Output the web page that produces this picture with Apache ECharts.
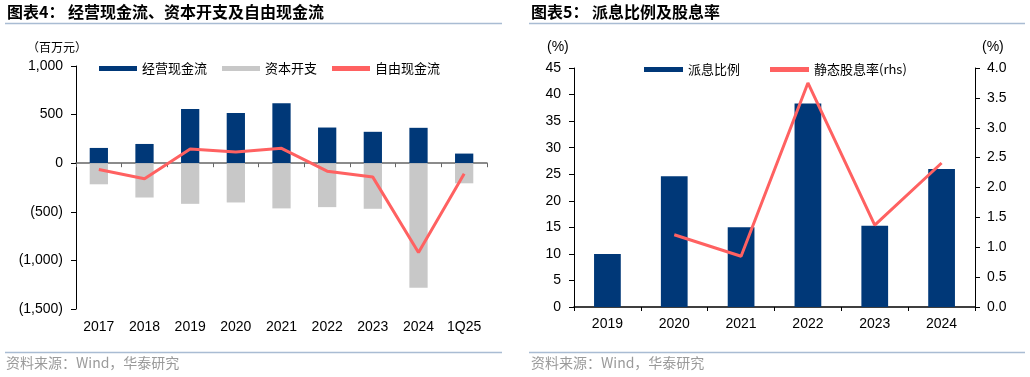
<!DOCTYPE html>
<html>
<head>
<meta charset="utf-8">
<script src="https://cdn.jsdelivr.net/npm/echarts@6/dist/echarts.min.js"></script>
<style>
  html, body { margin: 0; padding: 0; background: #fff; }
  #chart { width: 1030px; height: 377px; }
</style>
</head>
<body>
<div id="chart"></div>
<script>
// 图表4 数据（百万元）
const years = ["2017", "2018", "2019", "2020", "2021", "2022", "2023", "2024", "1Q25"];
const opCashFlow = [157, 198, 558, 517, 616, 367, 323, 364, 99];
const capex = [-217, -353, -418, -404, -465, -452, -469, -1282, -207];
const freeCashFlow = [-64, -159, 147, 116, 153, -82, -143, -918, -108];

// 图表5 数据（%）
const divYears = ["2019", "2020", "2021", "2022", "2023", "2024"];
const payoutRatio = [10.0, 24.6, 15.0, 38.3, 15.3, 26.0];
const dividendYield = [null, 1.21, 0.85, 3.75, 1.37, 2.41];

const BLUE = "#003878";
const GREY = "#C8C8C8";
const RED = "#FF6161";
const LINE_BLUE = "#A9BCD3";
const numFont = "Arial, 'Liberation Sans', sans-serif";
const cjkFont = "'Noto Sans CJK SC', sans-serif";

function fmtThousands(v) {
  const s = Math.abs(v).toLocaleString("en-US");
  return v < 0 ? "(" + s + ")" : s;
}

let myChart = echarts.init(document.getElementById("chart"), null, { renderer: "canvas" });

let options = {
  animation: false,
  graphic: [
    // 标题
    { type: "text", left: 7, top: 4, style: { text: "图表4：", font: "bold 16px " + cjkFont, fill: "#000" } },
    { type: "text", left: 68, top: 4, style: { text: "经营现金流、资本开支及自由现金流", font: "bold 16px " + cjkFont, fill: "#000" } },
    { type: "text", left: 531, top: 4, style: { text: "图表5：", font: "bold 16px " + cjkFont, fill: "#000" } },
    { type: "text", left: 592, top: 4, style: { text: "派息比例及股息率", font: "bold 16px " + cjkFont, fill: "#000" } },
    // 分隔线
    { type: "line", shape: { x1: 5, y1: 23.5, x2: 502, y2: 23.5 }, style: { stroke: LINE_BLUE, lineWidth: 1.5 } },
    { type: "line", shape: { x1: 529, y1: 23.5, x2: 1025, y2: 23.5 }, style: { stroke: LINE_BLUE, lineWidth: 1.5 } },
    { type: "line", shape: { x1: 5, y1: 352.5, x2: 502, y2: 352.5 }, style: { stroke: LINE_BLUE, lineWidth: 1.5 } },
    { type: "line", shape: { x1: 529, y1: 352.5, x2: 1025, y2: 352.5 }, style: { stroke: LINE_BLUE, lineWidth: 1.5 } },
    // 资料来源
    { type: "text", left: 6, top: 356, style: { text: "资料来源：Wind，华泰研究", font: "14px " + cjkFont, fill: "#9a9a9a" } },
    { type: "text", left: 531, top: 356, style: { text: "资料来源：Wind，华泰研究", font: "14px " + cjkFont, fill: "#9a9a9a" } },
    // 单位
    { type: "text", left: 27, top: 41, style: { text: "（百万元）", font: "12px " + cjkFont, fill: "#000" } },
    { type: "text", left: 547, top: 40, style: { text: "(%)", font: "14px " + numFont, fill: "#000" } },
    { type: "text", left: 982, top: 40, style: { text: "(%)", font: "14px " + numFont, fill: "#000" } },
  ],
  legend: [
    {
      left: 94,
      top: 57,
      itemWidth: 38,
      itemHeight: 5,
      itemGap: 15,
      icon: "rect",
      data: ["经营现金流", "资本开支", "自由现金流"],
      textStyle: { fontFamily: cjkFont, fontSize: 13, color: "#000" },
    },
    {
      left: 639,
      top: 58,
      itemWidth: 39,
      itemHeight: 5,
      itemGap: 30,
      icon: "rect",
      data: ["派息比例", "静态股息率(rhs)"],
      textStyle: { fontFamily: cjkFont, fontSize: 13, color: "#000" },
    },
  ],
  grid: [
    { left: 76, right: 543, top: 66, bottom: 68 },
    { left: 574, right: 55, top: 68, bottom: 70 },
  ],
  xAxis: [
    {
      // 底部标签
      type: "category",
      gridIndex: 0,
      data: years,
      position: "bottom",
      axisLine: { show: false, onZero: false },
      axisTick: { show: false },
      axisLabel: { margin: 11, fontFamily: numFont, fontSize: 14, color: "#000" },
    },
    {
      // 零轴
      type: "category",
      gridIndex: 0,
      data: years,
      position: "bottom",
      axisLine: { show: true, onZero: true, lineStyle: { color: "#666", width: 1.5 } },
      axisTick: { show: true, length: 4, lineStyle: { color: "#666" } },
      axisLabel: { show: false },
    },
    {
      type: "category",
      gridIndex: 1,
      data: divYears,
      axisLine: { lineStyle: { color: "#000", width: 1.5 } },
      axisTick: { show: true, length: 4, lineStyle: { color: "#000" } },
      axisLabel: { margin: 10, fontFamily: numFont, fontSize: 14, color: "#000" },
    },
  ],
  yAxis: [
    {
      type: "value",
      gridIndex: 0,
      min: -1500,
      max: 1000,
      interval: 500,
      axisLine: { show: true, lineStyle: { color: "#000" } },
      axisTick: { show: true, length: 5, lineStyle: { color: "#000" } },
      splitLine: { show: false },
      axisLabel: { margin: 13, fontFamily: numFont, fontSize: 14, color: "#000", formatter: fmtThousands },
    },
    {
      type: "value",
      gridIndex: 1,
      min: 0,
      max: 45,
      interval: 5,
      axisLine: { show: true, lineStyle: { color: "#000" } },
      axisTick: { show: true, length: 5, lineStyle: { color: "#000" } },
      splitLine: { show: false },
      axisLabel: { margin: 13, fontFamily: numFont, fontSize: 14, color: "#000" },
    },
    {
      type: "value",
      gridIndex: 1,
      position: "right",
      min: 0,
      max: 4,
      interval: 0.5,
      axisLine: { show: true, lineStyle: { color: "#000" } },
      axisTick: { show: true, length: 5, lineStyle: { color: "#000" } },
      splitLine: { show: false },
      axisLabel: { margin: 12, fontFamily: numFont, fontSize: 14, color: "#000", formatter: (v) => v.toFixed(1) },
    },
  ],
  series: [
    {
      name: "经营现金流",
      type: "bar",
      xAxisIndex: 0,
      yAxisIndex: 0,
      barWidth: "40%",
      barGap: "-100%",
      itemStyle: { color: BLUE },
      data: opCashFlow,
    },
    {
      name: "资本开支",
      type: "bar",
      xAxisIndex: 0,
      yAxisIndex: 0,
      barWidth: "40%",
      barGap: "-100%",
      itemStyle: { color: GREY },
      data: capex,
    },
    {
      name: "自由现金流",
      type: "line",
      xAxisIndex: 0,
      yAxisIndex: 0,
      symbol: "none",
      lineStyle: { color: RED, width: 3 },
      itemStyle: { color: RED },
      data: freeCashFlow,
      z: 5,
    },
    {
      name: "派息比例",
      type: "bar",
      xAxisIndex: 2,
      yAxisIndex: 1,
      barWidth: "40%",
      itemStyle: { color: BLUE },
      data: payoutRatio,
    },
    {
      name: "静态股息率(rhs)",
      type: "line",
      xAxisIndex: 2,
      yAxisIndex: 2,
      symbol: "none",
      lineStyle: { color: RED, width: 3 },
      itemStyle: { color: RED },
      data: dividendYield,
      z: 5,
    },
  ],
};

myChart.setOption(options);
</script>
</body>
</html>
